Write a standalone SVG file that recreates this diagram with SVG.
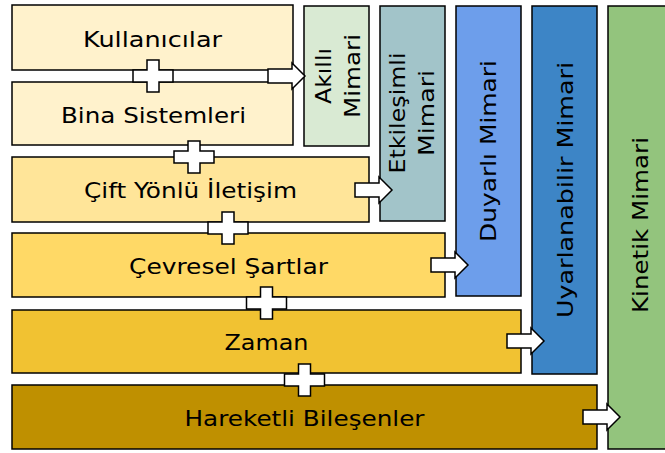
<svg xmlns="http://www.w3.org/2000/svg" width="665" height="453" viewBox="0 0 665 453">
  <style>
    .box { stroke: #000; stroke-width: 1.5; }
    .lbl { font-family: "DejaVu Sans", "Noto Sans", sans-serif; font-size: 21px; fill: #000; text-anchor: middle; }
    .sym { fill: #fff; stroke: #000; stroke-width: 1.5; stroke-linejoin: miter; }
  </style>
  <defs>
    <!-- block arrow pointing right, origin at the tail's vertical centre -->
    <path id="arrow" d="M0,-7 H24 V-13 L37,0 L24,13 V7 H0 Z"/>
    <!-- plus sign centred on origin -->
    <path id="plus" d="M-6,-16 H6 V-6 H20 V6 H6 V16 H-6 V6 H-20 V-6 H-6 Z"/>
  </defs>
  <rect width="665" height="453" fill="#fff"/>

  <!-- stacked factor layers -->
  <g id="kullanicilar">
    <rect class="box" x="12" y="5" width="281" height="65" fill="#FFF2CC"/>
    <text class="lbl" x="152.5" y="47" textLength="139" lengthAdjust="spacingAndGlyphs">Kullanıcılar</text>
  </g>
  <g id="bina-sistemleri">
    <rect class="box" x="12" y="82" width="281" height="63" fill="#FFF2CC"/>
    <text class="lbl" x="153.5" y="123" textLength="185" lengthAdjust="spacingAndGlyphs">Bina Sistemleri</text>
  </g>
  <g id="cift-yonlu-iletisim">
    <rect class="box" x="12" y="157" width="357" height="65" fill="#FFE599"/>
    <text class="lbl" x="190.5" y="198" textLength="213" lengthAdjust="spacingAndGlyphs">Çift Yönlü İletişim</text>
  </g>
  <g id="cevresel-sartlar">
    <rect class="box" x="12" y="233" width="433" height="64" fill="#FFD966"/>
    <text class="lbl" x="228.5" y="274" textLength="199" lengthAdjust="spacingAndGlyphs">Çevresel Şartlar</text>
  </g>
  <g id="zaman">
    <rect class="box" x="12" y="310" width="509" height="63" fill="#F1C232"/>
    <text class="lbl" x="266.5" y="350" textLength="84" lengthAdjust="spacingAndGlyphs">Zaman</text>
  </g>
  <g id="hareketli-bilesenler">
    <rect class="box" x="12" y="385" width="585" height="64" fill="#BF9000"/>
    <text class="lbl" x="304.5" y="426" textLength="240" lengthAdjust="spacingAndGlyphs">Hareketli Bileşenler</text>
  </g>

  <!-- architecture columns -->
  <g id="akilli-mimari">
    <rect class="box" x="304" y="6" width="65" height="140" fill="#D9EAD3"/>
    <text class="lbl" transform="translate(323,76) rotate(-90)" y="7.5" textLength="56" lengthAdjust="spacingAndGlyphs">Akıllı</text>
    <text class="lbl" transform="translate(352,76) rotate(-90)" y="7.5" textLength="84" lengthAdjust="spacingAndGlyphs">Mimari</text>
  </g>
  <g id="etkilesimli-mimari">
    <rect class="box" x="380" y="6" width="65" height="215" fill="#A2C4C9"/>
    <text class="lbl" transform="translate(397,113) rotate(-90)" y="7.5" textLength="121" lengthAdjust="spacingAndGlyphs">Etkileşimli</text>
    <text class="lbl" transform="translate(426,113) rotate(-90)" y="7.5" textLength="86" lengthAdjust="spacingAndGlyphs">Mimari</text>
  </g>
  <g id="duyarli-mimari">
    <rect class="box" x="456" y="6" width="65" height="290" fill="#6D9EEB"/>
    <text class="lbl" transform="translate(488.5,151) rotate(-90)" y="7.5" textLength="182" lengthAdjust="spacingAndGlyphs">Duyarlı Mimari</text>
  </g>
  <g id="uyarlanabilir-mimari">
    <rect class="box" x="532" y="6" width="65" height="368" fill="#3D85C6"/>
    <text class="lbl" transform="translate(565,190) rotate(-90)" y="7.5" textLength="256" lengthAdjust="spacingAndGlyphs">Uyarlanabilir Mimari</text>
  </g>
  <g id="kinetik-mimari">
    <rect class="box" x="608" y="6" width="66" height="443" fill="#93C47D"/>
    <text class="lbl" transform="translate(640,225) rotate(-90)" y="7.5" textLength="176" lengthAdjust="spacingAndGlyphs">Kinetik Mimari</text>
  </g>

  <!-- plus joins and arrows -->
  <g id="connectors">
    <use href="#plus" class="sym" x="153" y="76"/>
    <use href="#plus" class="sym" x="194" y="157"/>
    <use href="#plus" class="sym" x="228" y="228"/>
    <use href="#plus" class="sym" x="266.5" y="303"/>
    <use href="#plus" class="sym" x="304.5" y="380"/>
    <use href="#arrow" class="sym" x="268" y="76"/>
    <use href="#arrow" class="sym" x="355" y="190"/>
    <use href="#arrow" class="sym" x="431" y="265"/>
    <use href="#arrow" class="sym" x="507" y="341"/>
    <use href="#arrow" class="sym" x="583" y="417"/>
  </g>
</svg>
